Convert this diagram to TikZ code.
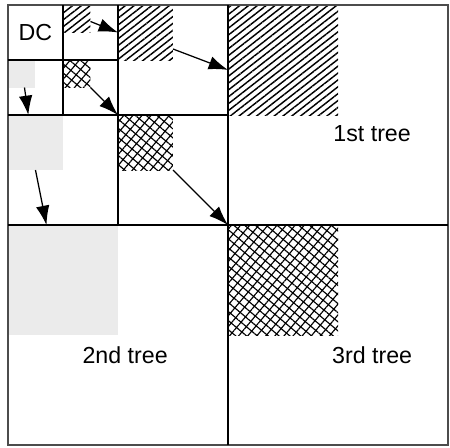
\documentclass[tikz,border=0pt]{standalone}
\usepackage{fontspec}
\setmainfont{Liberation Sans}
\usetikzlibrary{arrows.meta,patterns.meta,calc}

\begin{document}
\begin{tikzpicture}[
  blk/.style={rectangle, anchor=north west, inner sep=0pt, outer sep=0pt},
  hatch/.style={blk, pattern={Lines[angle=38,distance=2.8pt,line width=0.75pt]}},
  xhatch/.style={blk, pattern={Lines[angle=50,distance=3.6pt,line width=0.6pt]},
                 postaction={pattern={Lines[angle=-40,distance=3.6pt,line width=0.6pt]}}},
  greybox/.style={blk, fill=black!8},
  gridline/.style={line width=1.1pt},
  border/.style={line width=0.8pt, draw=black!70},
  arr/.style={-{Latex[length=10pt,width=7pt]}, line width=0.65pt},
  lbl/.style={font=\fontsize{12}{14}\selectfont}
]
\useasboundingbox (-0.145,-0.036) rectangle (8.036,8.091);

% filled blocks
\node[greybox, minimum size=2cm]   (gb) at (0,4) {};
\node[greybox, minimum size=1cm]   (gm) at (0,6) {};
\node[greybox, minimum size=0.5cm] (gs) at (0,7) {};
\node[hatch, minimum size=2cm]     (hb) at (4,8) {};
\node[hatch, minimum size=1cm]     (hm) at (2,8) {};
\node[hatch, minimum size=0.5cm]   (hs) at (1,8) {};
\node[xhatch, minimum size=2cm]    (xb) at (4,4) {};
\node[xhatch, minimum size=1cm]    (xm) at (2,6) {};
\node[xhatch, minimum size=0.5cm]  (xs) at (1,7) {};

% quadtree grid
\draw[border] (0,0) rectangle (8,8);
\draw[gridline] (4,0) -- (4,8) (0,4) -- (8,4)
                (2,4) -- (2,8) (0,6) -- (4,6)
                (1,6) -- (1,8) (0,7) -- (2,7);

\node[lbl] (dc) at (0.5,7.5)   {DC};
\node[lbl] (t1) at (6.62,5.67) {1st tree};
\node[lbl] (t2) at (2.13,1.64) {2nd tree};
\node[lbl] (t3) at (6.62,1.64) {3rd tree};

\draw[arr] ([yshift=-0.05cm]hs.east) -- (hm.west);
\draw[arr] ([yshift=-0.3cm]hm.east)  -- ([yshift=-0.18cm]hb.west);
\draw[arr] (xs.south east) -- (xm.north west);
\draw[arr] (xm.south east) -- (xb.north west);
\draw[arr] ([xshift=0.05cm]gs.south) -- ([xshift=-0.13cm]gm.north);
\draw[arr] (gm.south) -- ([xshift=-0.3cm]gb.north);
\end{tikzpicture}
\end{document}
